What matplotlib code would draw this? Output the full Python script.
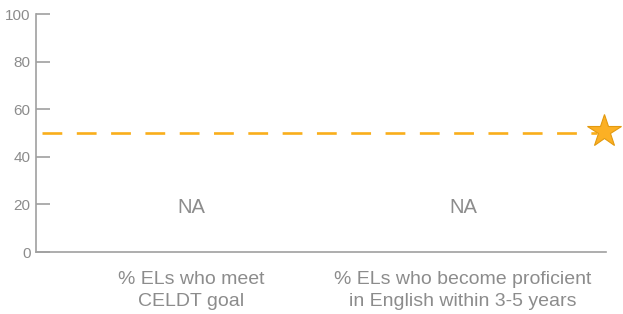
import matplotlib
matplotlib.use("Agg")
import matplotlib.pyplot as plt

categories = ["% ELs who meet\nCELDT goal", "% ELs who become proficient\nin English within 3-5 years"]
values_text = ["NA", "NA"]
na_y = [18.5, 18.5]
target = 50
yticks = [0, 20, 40, 60, 80, 100]

plt.rcParams['font.family'] = ['Liberation Sans', 'DejaVu Sans']

fig = plt.figure(figsize=(6.23, 3.14), dpi=100)
ax = fig.add_axes([36/623, (314-252)/314, (606-36)/623, (252-14)/314])

x = list(range(len(categories)))
ax.set_xlim(-0.57, 1.526)
ax.set_ylim(0, 100)

grey = '#8c8c8c'
spine = '#a0a0a0'
orange = '#F9AE1B'

ax.axhline(target, xmin=0.01, xmax=0.985, color=orange, lw=1.9, dashes=(7.5, 5.5))
ax.plot([1.52], [target + 0.8], marker='*', markersize=25, color='#FCB024',
        markeredgecolor='#E39A0F', markeredgewidth=0.8, clip_on=False, zorder=5)

for xi, t, yv in zip(x, values_text, na_y):
    ax.text(xi, yv, t, ha='center', va='center', fontsize=14.5, color=grey)

ax.set_yticks(yticks)
ax.set_xticks(x)
ax.set_xticklabels(categories, fontsize=14, color=grey, linespacing=1.38)
ax.tick_params(axis='x', length=0, pad=14)
ax.tick_params(axis='y', direction='in', length=10, width=1.2, color=spine,
               labelsize=11, labelcolor=grey, pad=4)

for s in ['top', 'right']:
    ax.spines[s].set_visible(False)
for s in ['left', 'bottom']:
    ax.spines[s].set_color(spine)
    ax.spines[s].set_linewidth(1.2)

fig.savefig("out.png", dpi=100)
